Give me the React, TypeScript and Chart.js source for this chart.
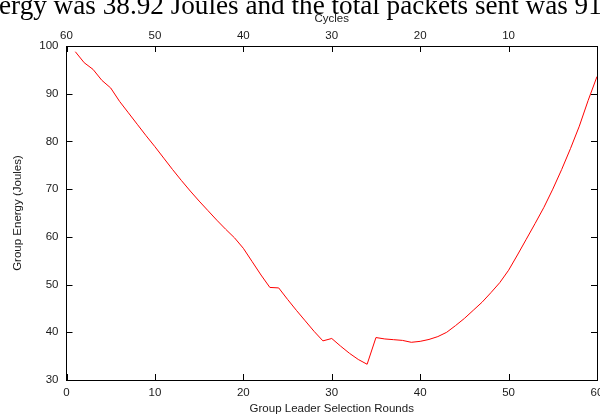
import React, { useEffect, useRef } from "react";
import { Chart, registerables } from "chart.js";

Chart.register(...registerables);

const rounds: number[] = [
  1, 2, 3, 4, 5, 6, 7, 8, 9, 10, 11, 12, 13, 14, 15, 16, 17, 18, 19, 20,
  21, 22, 23, 24, 25, 26, 27, 28, 29, 30, 31, 32, 33, 34, 35, 36, 37, 38, 39, 40,
  41, 42, 43, 44, 45, 46, 47, 48, 49, 50, 51, 52, 53, 54, 55, 56, 57, 58, 59, 60,
];

const groupEnergy: number[] = [
  98.8, 96.5, 95.1, 92.8, 91.2, 88.4, 86.0, 83.6, 81.2, 78.9,
  76.5, 74.1, 71.8, 69.6, 67.5, 65.5, 63.5, 61.6, 59.8, 57.6,
  54.8, 52.0, 49.4, 49.3, 46.9, 44.6, 42.4, 40.2, 38.2, 38.7,
  37.1, 35.6, 34.3, 33.3, 38.9, 38.6, 38.45, 38.3, 37.9, 38.1,
  38.5, 39.1, 40.0, 41.4, 42.9, 44.6, 46.3, 48.3, 50.4, 53.0,
  56.2, 59.5, 62.8, 66.2, 70.0, 74.1, 78.5, 83.2, 88.6, 93.6,
];

const roundTicks: number[] = [0, 10, 20, 30, 40, 50, 60];
const cycleTicks: number[] = [60, 50, 40, 30, 20, 10];
const energyTicks: number[] = [30, 40, 50, 60, 70, 80, 90, 100];

const headerText = "ergy was 38.92 Joules and the total packets sent was 910";
const xTitle = "Group Leader Selection Rounds";
const x2Title = "Cycles";
const yTitle = "Group Energy (Joules)";

const CANVAS_W = 617;
const CANVAS_H = 430;
const TEXT = "#1a1a1a";
const FONT = { family: "'Liberation Sans', Arial, sans-serif", size: 11.5 };

const inwardTicks = {
  id: "inwardTicks",
  afterDatasetsDraw(chart: any) {
    const { ctx, chartArea, scales } = chart;
    const L = 6;
    ctx.save();
    ctx.strokeStyle = "#000";
    ctx.lineWidth = 1;
    ctx.beginPath();
    roundTicks.forEach((v) => {
      const px = Math.round(scales.x.getPixelForValue(v)) + 0.5;
      ctx.moveTo(px, chartArea.bottom);
      ctx.lineTo(px, chartArea.bottom - L);
    });
    cycleTicks.forEach((v) => {
      const px = Math.round(scales.x2.getPixelForValue(v)) + 0.5;
      ctx.moveTo(px, chartArea.top);
      ctx.lineTo(px, chartArea.top + L);
    });
    energyTicks.forEach((v) => {
      const py = Math.round(scales.y.getPixelForValue(v)) + 0.5;
      ctx.moveTo(chartArea.left, py);
      ctx.lineTo(chartArea.left + L, py);
      ctx.moveTo(chartArea.right, py);
      ctx.lineTo(chartArea.right - L, py);
    });
    ctx.stroke();
    ctx.restore();
  },
};

export default function App() {
  const canvasRef = useRef<HTMLCanvasElement | null>(null);

  useEffect(() => {
    if (!canvasRef.current) return;
    const chart = new Chart(canvasRef.current, {
      type: "line",
      data: {
        datasets: [
          {
            data: rounds.map((r, i) => ({ x: r, y: groupEnergy[i] })),
            borderColor: "#ff0000",
            borderWidth: 1,
            pointRadius: 0,
            tension: 0,
            fill: false,
            xAxisID: "x",
            yAxisID: "y",
          },
        ],
      },
      options: {
        responsive: false,
        animation: false,
        layout: { padding: 0 },
        plugins: { legend: { display: false }, tooltip: { enabled: false } },
        scales: {
          x: {
            type: "linear",
            position: "bottom",
            min: 0,
            max: 60,
            afterBuildTicks: (s: any) => {
              s.ticks = roundTicks.map((v) => ({ value: v }));
            },
            afterFit: (s: any) => {
              s.height = CANVAS_H - 380;
            },
            grid: { drawOnChartArea: false, drawTicks: false },
            border: { display: true, color: "#000", width: 1 },
            ticks: { color: TEXT, font: FONT, padding: 6, maxRotation: 0 },
            title: {
              display: true,
              text: xTitle,
              color: TEXT,
              font: FONT,
              padding: { top: 0, bottom: 14 },
            },
          },
          x2: {
            type: "linear",
            position: "top",
            min: 0,
            max: 60,
            reverse: true,
            afterBuildTicks: (s: any) => {
              s.ticks = cycleTicks.map((v) => ({ value: v }));
            },
            afterFit: (s: any) => {
              s.height = 46;
            },
            grid: { drawOnChartArea: false, drawTicks: false },
            border: { display: true, color: "#000", width: 1 },
            ticks: { color: TEXT, font: FONT, padding: 3, maxRotation: 0 },
            title: {
              display: true,
              text: x2Title,
              color: TEXT,
              font: FONT,
              padding: { top: 12, bottom: 0 },
            },
          },
          y: {
            type: "linear",
            position: "left",
            min: 30,
            max: 100,
            afterBuildTicks: (s: any) => {
              s.ticks = energyTicks.map((v) => ({ value: v }));
            },
            afterFit: (s: any) => {
              s.width = 66.5;
            },
            grid: { drawOnChartArea: false, drawTicks: false },
            border: { display: true, color: "#000", width: 1 },
            ticks: { color: TEXT, font: FONT, padding: 8 },
            title: {
              display: true,
              text: yTitle,
              color: TEXT,
              font: FONT,
              padding: { top: 11, bottom: 0 },
            },
          },
          y2: {
            type: "linear",
            position: "right",
            display: true,
            min: 30,
            max: 100,
            afterFit: (s: any) => {
              s.width = 20;
            },
            grid: { drawOnChartArea: false, drawTicks: false },
            border: { display: true, color: "#000", width: 1 },
            ticks: { display: false },
          },
        },
      } as any,
      plugins: [inwardTicks],
    });
    return () => chart.destroy();
  }, []);

  return (
    <div
      style={{
        position: "fixed",
        left: 0,
        top: 0,
        width: 600,
        height: 414,
        overflow: "hidden",
        background: "#fff",
      }}
    >
      <canvas
        ref={canvasRef}
        width={CANVAS_W}
        height={CANVAS_H}
        style={{ position: "absolute", left: 0, top: 0, width: CANVAS_W, height: CANVAS_H }}
      />
      <div
        style={{
          position: "absolute",
          left: -1,
          top: -9.5,
          fontFamily: "'Liberation Serif', 'Times New Roman', serif",
          fontSize: 27.2,
          lineHeight: "28px",
          whiteSpace: "nowrap",
          color: "#000",
        }}
      >
        {headerText}
      </div>
    </div>
  );
}
